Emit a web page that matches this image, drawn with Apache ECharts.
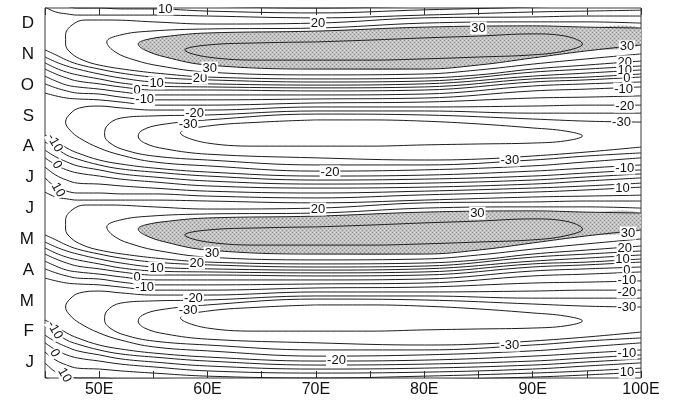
<!DOCTYPE html>
<html><head><meta charset="utf-8">
<script src="https://cdn.jsdelivr.net/npm/echarts@6/dist/echarts.min.js"></script>
<style>html,body{margin:0;padding:0;background:#fff}#c{width:677px;height:405px}</style>
</head><body><div id="c"></div>
<script>
// ---------- axis categories / ticks ----------
const monthLabels = ['J','F','M','A','M','J','J','A','S','O','N','D'];
const lonCols = [45,46,47,48,50,52,55,60,70,80,90,95,100];

// ---------- band contours (levels 15,10,5,0,-5,-10,-15), month value at each lonCols ----------
const bandLevels = [15,10,5,0,-5,-10,-15];
const bandSepOct = [
 [11.14,10.98,10.81,10.68,10.52,10.39,10.26,10.17,10.10,10.13,10.42,10.52,10.62],
 [10.91,10.75,10.62,10.52,10.36,10.23,10.10,10.04,10.00,10.04,10.29,10.39,10.49],
 [10.72,10.55,10.42,10.33,10.20,10.07,9.97,9.94,9.91,9.94,10.20,10.26,10.36],
 [10.52,10.36,10.23,10.13,10.04,9.94,9.84,9.84,9.81,9.84,10.10,10.17,10.26],
 [10.29,10.13,10.00,9.94,9.87,9.78,9.68,9.68,9.68,9.71,9.97,10.04,10.10],
 [10.04,9.91,9.81,9.74,9.71,9.61,9.52,9.52,9.55,9.58,9.81,9.87,9.94],
 [9.74,9.65,9.58,9.55,9.52,9.45,9.35,9.35,9.42,9.45,9.58,9.61,9.65]
];
const bandMarApr = [
 [5.14,4.98,4.81,4.68,4.52,4.39,4.26,4.17,4.10,4.13,4.42,4.52,4.62],
 [4.91,4.75,4.62,4.52,4.36,4.23,4.10,4.04,4.00,4.04,4.29,4.39,4.49],
 [4.72,4.55,4.42,4.33,4.20,4.07,3.97,3.94,3.91,3.94,4.20,4.26,4.36],
 [4.52,4.36,4.23,4.13,4.04,3.94,3.84,3.84,3.81,3.84,4.10,4.17,4.26],
 [4.29,4.13,4.00,3.94,3.87,3.78,3.68,3.68,3.68,3.71,3.97,4.04,4.10],
 [4.04,3.91,3.81,3.74,3.71,3.61,3.52,3.52,3.55,3.58,3.81,3.87,3.94],
 [3.74,3.65,3.58,3.55,3.52,3.45,3.35,3.35,3.42,3.45,3.58,3.61,3.65]
];
const bandJunJul = [
 [6.53,6.37,6.31,6.27,6.27,6.27,6.27,6.24,6.18,6.27,6.37,6.40,6.43],
 [6.99,6.69,6.56,6.50,6.50,6.47,6.47,6.40,6.34,6.44,6.53,6.60,6.69],
 [7.34,7.08,6.92,6.82,6.79,6.73,6.66,6.56,6.50,6.56,6.66,6.73,6.82],
 [7.64,7.41,7.25,7.15,7.05,6.95,6.86,6.73,6.66,6.69,6.79,6.89,6.99],
 [7.89,7.67,7.51,7.38,7.25,7.12,7.02,6.89,6.79,6.82,6.92,7.02,7.12],
 [8.15,7.96,7.73,7.60,7.41,7.28,7.18,7.05,6.92,6.95,7.05,7.15,7.25],
 [8.38,8.19,7.96,7.80,7.57,7.44,7.31,7.18,7.05,7.08,7.21,7.31,7.41]
];
const bandDecJan = [
 [0.53,0.37,0.31,0.27,0.27,0.27,0.27,0.24,0.18,0.27,0.37,0.40,0.43],
 [0.99,0.69,0.56,0.50,0.50,0.47,0.47,0.40,0.34,0.44,0.53,0.60,0.69],
 [1.34,1.08,0.92,0.82,0.79,0.73,0.66,0.56,0.50,0.56,0.66,0.73,0.82],
 [1.64,1.41,1.25,1.15,1.05,0.95,0.86,0.73,0.66,0.69,0.79,0.89,0.99],
 [1.89,1.67,1.51,1.38,1.25,1.12,1.02,0.89,0.79,0.82,0.92,1.02,1.12],
 [2.15,1.96,1.73,1.60,1.41,1.28,1.18,1.05,0.92,0.95,1.05,1.15,1.25],
 [2.38,2.19,1.96,1.80,1.57,1.44,1.31,1.18,1.05,1.08,1.21,1.31,1.41]
];
// same Dec/Jan contours where they reach the top of the chart (late December)
const bandDecTop = [
 [12.53,12.37,12.31,12.27,12.27,12.27,12.27,12.24,12.18,12.27,12.37,12.40,12.43],
 [12.99,12.69,12.56,12.50,12.50,12.47,12.47,12.40,12.34,12.44,12.53,12.60,12.69],
 [13.34,13.08,12.92,12.82,12.79,12.73,12.66,12.56,12.50,12.56,12.66,12.73,12.82]
];

// ---------- maxima (Nov, May) : [lon, month] ----------
const novMax35 = [[70,11.40],[75,11.46],[80,11.53],[85,11.59],[90,11.66],[93,11.59],[94.6,11.33],[93,11.11],[90,10.98],[85,10.91],[80,10.85],[75,10.81],[70,10.81],[65,10.81],[60,10.91],[57.9,11.14],[60,11.30],[65,11.37],[70,11.40]];
const novMax30 = [[100,11.85],[95,11.88],[90,11.92],[80,11.88],[70,11.75],[60,11.69],[56.5,11.59],[54.2,11.46],[53.6,11.33],[54.2,11.14],[56.1,10.91],[60,10.65],[70,10.52],[80,10.52],[85,10.65],[90,10.88],[95,11.11],[100,11.30]];
const novMax25 = [[100,12.01],[95,12.05],[90,12.05],[80,12.01],[70,11.85],[60,11.82],[54.7,11.75],[51.9,11.62],[50.7,11.40],[51.5,11.07],[53.3,10.81],[55.6,10.62],[60,10.42],[70,10.33],[80,10.36],[85,10.49],[90,10.68],[95,10.85],[100,11.01]];
const novMax20 = [[100,12.24],[95,12.24],[90,12.21],[80,12.18],[70,12.01],[60,11.98],[55,12.05],[51,12.11],[48.7,12.11],[47.5,11.95],[46.9,11.62],[46.9,11.33],[47.4,11.04],[48.5,10.81],[50,10.65],[52.8,10.49],[56.1,10.36],[60,10.26],[70,10.20],[80,10.23],[85,10.33],[90,10.52],[95,10.65],[100,10.78]];
const mayMax35 = [[70,5.40],[75,5.46],[80,5.53],[85,5.59],[90,5.66],[93,5.59],[94.6,5.33],[93,5.11],[90,4.98],[85,4.91],[80,4.85],[75,4.81],[70,4.81],[65,4.81],[60,4.91],[57.9,5.14],[60,5.30],[65,5.37],[70,5.40]];
const mayMax30 = [[100,5.85],[95,5.88],[90,5.92],[80,5.88],[70,5.75],[60,5.69],[56.5,5.59],[54.2,5.46],[53.6,5.33],[54.2,5.14],[56.1,4.91],[60,4.65],[70,4.52],[80,4.52],[85,4.65],[90,4.88],[95,5.11],[100,5.30]];
const mayMax25 = [[100,6.01],[95,6.05],[90,6.05],[80,6.01],[70,5.85],[60,5.82],[54.7,5.75],[51.9,5.62],[50.7,5.40],[51.5,5.07],[53.3,4.81],[55.6,4.62],[60,4.42],[70,4.33],[80,4.36],[85,4.49],[90,4.68],[95,4.85],[100,5.01]];
const mayMax20 = [[100,6.24],[95,6.24],[90,6.21],[80,6.18],[70,6.01],[60,5.98],[55,6.05],[51,6.11],[48.7,6.11],[47.5,5.95],[46.9,5.62],[46.9,5.33],[47.4,5.04],[48.5,4.81],[50,4.65],[52.8,4.49],[56.1,4.36],[60,4.26],[70,4.20],[80,4.23],[85,4.33],[90,4.52],[95,4.65],[100,4.78]];

// ---------- minima (Aug, Feb) ----------
const augMin35 = [[70,8.87],[75,8.87],[80,8.83],[85,8.74],[90,8.61],[93,8.51],[94.6,8.35],[93,8.19],[90,8.12],[85,8.09],[80,8.06],[75,8.02],[70,8.02],[65,8.02],[60,8.12],[57.5,8.45],[60,8.67],[65,8.80],[70,8.87]];
const augMin30 = [[100,8.80],[95,8.83],[90,8.90],[80,9.03],[70,9.06],[60,8.87],[55.6,8.71],[54,8.54],[53.6,8.35],[54.2,8.12],[56.1,7.93],[60,7.76],[70,7.64],[80,7.57],[85,7.60],[90,7.70],[95,7.83],[100,7.99]];
const augMin25 = [[100,9.09],[95,9.09],[90,9.09],[80,9.16],[70,9.16],[60,9.03],[55,9.00],[52,8.93],[50.7,8.67],[50.5,8.38],[51,8.12],[52.4,7.89],[55,7.70],[60,7.57],[70,7.41],[80,7.41],[90,7.57],[95,7.70],[100,7.80]];
const augMin20 = [[100,9.35],[95,9.35],[90,9.32],[80,9.29],[70,9.29],[60,9.19],[55,9.19],[52,9.26],[50,9.32],[48.2,9.26],[47.3,9.06],[46.9,8.80],[47.3,8.54],[48.2,8.28],[50,7.96],[52,7.73],[55,7.51],[60,7.38],[70,7.21],[80,7.25],[90,7.38],[95,7.51],[100,7.64]];
const febMin35 = [[70,2.87],[75,2.87],[80,2.83],[85,2.74],[90,2.61],[93,2.51],[94.6,2.35],[93,2.19],[90,2.12],[85,2.09],[80,2.06],[75,2.02],[70,2.02],[65,2.02],[60,2.12],[57.5,2.45],[60,2.67],[65,2.80],[70,2.87]];
const febMin30 = [[100,2.80],[95,2.83],[90,2.90],[80,3.03],[70,3.06],[60,2.87],[55.6,2.71],[54,2.54],[53.6,2.35],[54.2,2.12],[56.1,1.93],[60,1.76],[70,1.64],[80,1.57],[85,1.60],[90,1.70],[95,1.83],[100,1.99]];
const febMin25 = [[100,3.09],[95,3.09],[90,3.09],[80,3.16],[70,3.16],[60,3.03],[55,3.00],[52,2.93],[50.7,2.67],[50.5,2.38],[51,2.12],[52.4,1.89],[55,1.70],[60,1.57],[70,1.41],[80,1.41],[90,1.57],[95,1.70],[100,1.80]];
const febMin20 = [[100,3.35],[95,3.35],[90,3.32],[80,3.29],[70,3.29],[60,3.19],[55,3.19],[52,3.26],[50,3.32],[48.2,3.26],[47.3,3.06],[46.9,2.80],[47.3,2.54],[48.2,2.28],[50,1.96],[52,1.73],[55,1.51],[60,1.38],[70,1.21],[80,1.25],[90,1.38],[95,1.51],[100,1.64]];

// ---------- contour labels: [text, lon, month, rotation deg] ----------
const contourLabels = [
 ['10',56.1,12.47,0],['20',70.2,12.01,0],['30',85.0,11.85,0],
 ['30',98.7,11.24,0],['20',98.5,10.75,0],['10',98.5,10.46,0],['0',98.7,10.20,0],['-10',98.4,9.87,0],['-20',98.5,9.32,0],['-30',98.2,8.80,0],
 ['-30',87.9,7.57,0],['-10',98.5,7.31,0],['10',98.3,6.66,0],
 ['30',84.9,5.85,0],['30',98.8,5.20,0],['20',98.5,4.71,0],['10',98.3,4.33,0],['0',98.7,4.00,0],['-10',98.7,3.68,0],['-20',98.7,3.29,0],['-30',98.7,2.80,0],
 ['-30',87.9,1.57,0],['-10',98.7,1.31,0],['10',98.7,0.69,0],
 ['10',55.3,10.07,0],['0',53.5,9.84,0],['-10',54.2,9.52,0],['20',59.3,10.23,0],['30',60.2,10.55,0],['-20',58.8,9.09,0],['-30',58.2,8.71,0],
 ['10',55.3,4.07,0],['0',53.5,3.77,0],['-10',54.2,3.45,0],['20',59.0,4.23,0],['30',60.4,4.55,0],['-20',58.7,3.09,0],['-30',58.2,2.70,0],
 ['-20',71.3,7.18,0],['20',70.2,5.98,0],['-20',71.9,1.08,0],
 ['-10',45.9,8.12,-60],['0',46.1,7.41,-60],['10',46.2,6.60,-60],
 ['-10',45.9,2.05,-60],['0',45.9,1.31,-60],['10',46.8,0.59,-60]
];

// ---------- build ----------
const shadePolys = [novMax30, mayMax30];
const uLines = [novMax35,novMax30,novMax25,novMax20,mayMax35,mayMax30,mayMax25,mayMax20,
                augMin35,augMin30,augMin25,augMin20,febMin35,febMin30,febMin25,febMin20];
const bandSets = [bandSepOct, bandMarApr, bandJunJul, bandDecJan, bandDecTop];

// stipple pattern for the shaded (> 30) areas
const pat = document.createElement('canvas');
pat.width = 4; pat.height = 4;
(function(){
  const g = pat.getContext('2d');
  g.fillStyle = '#c2c2c2'; g.fillRect(0,0,4,4);
  g.fillStyle = '#8e8e8e'; g.fillRect(0,0,1,1); g.fillRect(2,2,1,1);
  g.fillStyle = '#dcdcdc'; g.fillRect(2,0,1,1); g.fillRect(0,2,1,1);
})();

function lineSeries(data){
  return {type:'line', data, xAxisIndex:0, yAxisIndex:0, showSymbol:false, symbol:'none',
    smooth:0.4, clip:true, silent:true, z:3, lineStyle:{color:'#1e1e1e', width:1}};
}
const series = [];
series.push({
  type:'custom', xAxisIndex:0, yAxisIndex:0, clip:true, silent:true, z:1,
  data: shadePolys.map(p => p[0]),
  renderItem: (params, api) => ({
    type:'polygon',
    shape:{points: shadePolys[params.dataIndex].map(p => api.coord(p)), smooth:0.4},
    style:{fill:{image:pat, repeat:'repeat'}}
  })
});
uLines.forEach(l => series.push(lineSeries(l)));
bandSets.forEach(set => set.forEach(months => series.push(lineSeries(lonCols.map((lon,i) => [lon, months[i]])))));
series.push({
  type:'custom', xAxisIndex:0, yAxisIndex:0, silent:true, z:6,
  data: contourLabels.map(l => [l[1], l[2]]),
  renderItem: (params, api) => {
    const l = contourLabels[params.dataIndex];
    const pt = api.coord([l[1], l[2]]);
    return {type:'text', x:pt[0], y:pt[1], rotation:l[3]*Math.PI/180,
      style:{text:l[0], fontSize:13, fontFamily:'Liberation Sans, Arial, sans-serif', fill:'#111',
        align:'center', verticalAlign:'middle', backgroundColor:'#fff', padding:[0,1]}};
  }
});

const chart = echarts.init(document.getElementById('c'), null, {renderer:'canvas'});
chart.setOption({
  animation:false,
  backgroundColor:'#fff',
  grid:{left:45, right:36, top:8, bottom:27, show:true, borderColor:'#3a3a3a', borderWidth:1},
  xAxis:[
    {type:'value', min:45, max:100, interval:5, position:'bottom',
     axisLine:{show:false}, splitLine:{show:false},
     axisTick:{show:true, inside:true, length:7, lineStyle:{color:'#333'}},
     axisLabel:{formatter: v => (v % 10 === 0 ? v + 'E' : ''), fontSize:16, color:'#111', margin:4,
       fontFamily:'Liberation Sans, Arial, sans-serif'}},
    {type:'value', min:45, max:100, interval:5, position:'top',
     axisLine:{show:false}, splitLine:{show:false}, axisLabel:{show:false},
     axisTick:{show:true, inside:true, length:7, lineStyle:{color:'#333'}}}
  ],
  yAxis:[
    {type:'value', min:0.5, max:12.5, axisLine:{show:false}, axisTick:{show:false},
     axisLabel:{show:false}, splitLine:{show:false}},
    {type:'category', data:monthLabels, position:'left', boundaryGap:true,
     axisLine:{show:false}, axisTick:{show:false}, splitLine:{show:false},
     axisLabel:{interval:0, fontSize:17, color:'#111', margin:11, fontFamily:'Liberation Sans, Arial, sans-serif'}}
  ],
  series
});
</script></body></html>
